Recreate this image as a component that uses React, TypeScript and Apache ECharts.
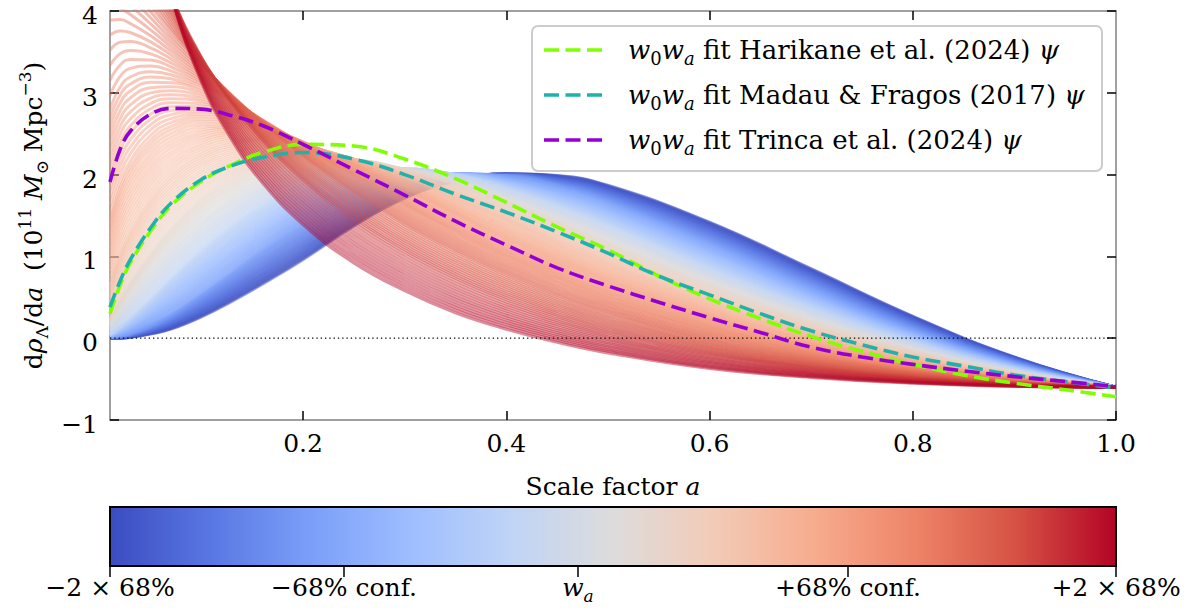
import React, { useEffect, useRef } from "react";
import * as echarts from "echarts";

// ---------------- data ----------------
// scale factor grid on which the w_a family curves are read
const SCALE_A = [0.01, 0.02, 0.03, 0.05, 0.07, 0.1, 0.13, 0.16, 0.2, 0.25, 0.3, 0.35, 0.4, 0.45, 0.5, 0.6, 0.7, 0.8, 0.9, 1.0];

// position of each key curve on the colour bar (0 = −2×68%, 1 = +2×68%)
const FAMILY_POS = [0, 0.2, 0.4, 0.55, 0.65, 0.73, 0.8, 0.86, 0.93, 1.0];
const FAMILY_0 = [0.0, 0.0, 0.01, 0.05, 0.11, 0.26, 0.45, 0.66, 0.96, 1.37, 1.71, 1.92, 2.01, 1.99, 1.87, 1.42, 0.85, 0.27, -0.23, -0.6];
const FAMILY_1 = [0.01, 0.03, 0.06, 0.16, 0.29, 0.54, 0.81, 1.08, 1.41, 1.73, 1.93, 2.01, 1.98, 1.86, 1.67, 1.16, 0.61, 0.1, -0.31, -0.6];
const FAMILY_2 = [0.05, 0.14, 0.24, 0.47, 0.72, 1.07, 1.37, 1.62, 1.87, 2.04, 2.07, 2.0, 1.84, 1.63, 1.39, 0.86, 0.37, -0.05, -0.38, -0.6];
const FAMILY_3 = [0.24, 0.47, 0.68, 1.04, 1.34, 1.7, 1.94, 2.1, 2.2, 2.18, 2.06, 1.87, 1.63, 1.38, 1.11, 0.61, 0.17, -0.17, -0.43, -0.6];
const FAMILY_4 = [0.67, 1.03, 1.3, 1.7, 1.98, 2.23, 2.36, 2.4, 2.35, 2.19, 1.97, 1.7, 1.43, 1.15, 0.89, 0.42, 0.04, -0.25, -0.46, -0.6];
const FAMILY_5 = [1.47, 1.88, 2.14, 2.46, 2.62, 2.7, 2.68, 2.59, 2.4, 2.12, 1.82, 1.51, 1.21, 0.94, 0.69, 0.26, -0.08, -0.32, -0.49, -0.6];
const FAMILY_6 = [2.82, 3.09, 3.21, 3.27, 3.23, 3.09, 2.89, 2.67, 2.36, 1.98, 1.62, 1.29, 0.99, 0.73, 0.49, 0.11, -0.18, -0.38, -0.51, -0.6];
const FAMILY_7 = [4.8, 4.58, 4.39, 4.06, 3.75, 3.34, 2.97, 2.63, 2.22, 1.78, 1.39, 1.06, 0.77, 0.52, 0.31, -0.03, -0.27, -0.43, -0.54, -0.6];
const FAMILY_8 = [8.44, 6.86, 5.99, 4.92, 4.21, 3.44, 2.87, 2.41, 1.92, 1.43, 1.04, 0.72, 0.46, 0.25, 0.07, -0.19, -0.37, -0.49, -0.56, -0.6];
const FAMILY_9 = [13.41, 9.27, 7.35, 5.34, 4.2, 3.13, 2.42, 1.9, 1.39, 0.92, 0.58, 0.31, 0.11, -0.05, -0.18, -0.37, -0.48, -0.55, -0.59, -0.6];
const FAMILY = [FAMILY_0, FAMILY_1, FAMILY_2, FAMILY_3, FAMILY_4, FAMILY_5, FAMILY_6, FAMILY_7, FAMILY_8, FAMILY_9];

// w0wa fits (dashed)
const FIT_A = [0.01, 0.02, 0.03, 0.05, 0.07, 0.1, 0.13, 0.16, 0.2, 0.25, 0.3, 0.35, 0.4, 0.45, 0.5, 0.55, 0.6, 0.65, 0.7, 0.75, 0.8, 0.85, 0.9, 0.95, 1.0];
const FIT_HARIKANE = [0.3, 0.65, 0.92, 1.31, 1.62, 1.92, 2.12, 2.27, 2.37, 2.35, 2.19, 1.95, 1.66, 1.36, 1.08, 0.76, 0.48, 0.24, 0.02, -0.16, -0.32, -0.45, -0.55, -0.63, -0.715];
const FIT_MADAU = [0.38, 0.7, 0.96, 1.35, 1.65, 1.94, 2.11, 2.21, 2.27, 2.19, 2.0, 1.76, 1.54, 1.3, 1.04, 0.76, 0.53, 0.3, 0.09, -0.08, -0.23, -0.34, -0.45, -0.53, -0.61];
const FIT_TRINCA = [1.91, 2.31, 2.53, 2.74, 2.81, 2.8, 2.72, 2.6, 2.37, 2.06, 1.75, 1.43, 1.14, 0.86, 0.64, 0.44, 0.25, 0.07, -0.11, -0.23, -0.32, -0.4, -0.47, -0.53, -0.59];
const FIT_NAMES = [
  "{i|w}{sub|0}{i|w}{subi|a} fit Harikane et al. (2024) {i|ψ}",
  "{i|w}{sub|0}{i|w}{subi|a} fit Madau & Fragos (2017) {i|ψ}",
  "{i|w}{sub|0}{i|w}{subi|a} fit Trinca et al. (2024) {i|ψ}",
];
const FIT_COLORS = ["#7fff00", "#20b2aa", "#9400d3"];

const X_TICKS = [0.2, 0.4, 0.6, 0.8, 1.0];

const CBAR_TICK_POS = [0, 0.2326, 0.4652, 0.7336, 1];
const CBAR_TICK_LABELS = ["−2 × 68%", "−68% conf.", "{i|w}{subi|a}", "+68% conf.", "+2 × 68%"];

const COOLWARM = ["#3b4cc0", "#5977e3", "#7b9ff9", "#9ebeff", "#c0d4f5", "#dddcdc", "#f2cbb7", "#f7ac8e", "#ee8468", "#d65244", "#b40426"];

// ---------------- helpers ----------------
const FONT = "DejaVu Serif";
const FS = 25;
const LH = 34;
function richFor(fs: number) {
  const small = Math.round(fs * 0.68);
  return {
    i: { fontFamily: FONT, fontStyle: "italic", fontSize: fs, lineHeight: LH, color: "#000" },
    sub: { fontFamily: FONT, fontSize: small, lineHeight: 21, verticalAlign: "bottom", color: "#000" },
    subi: { fontFamily: FONT, fontStyle: "italic", fontSize: small, lineHeight: 21, verticalAlign: "bottom", color: "#000" },
    sup: { fontFamily: FONT, fontSize: small, lineHeight: 20, verticalAlign: "top", color: "#000" },
  } as any;
}
const RICH = richFor(FS);
const RICH_LEG = richFor(26);

function hexToRgb(h: string) {
  return [parseInt(h.slice(1, 3), 16), parseInt(h.slice(3, 5), 16), parseInt(h.slice(5, 7), 16)];
}
function cmap(t: number, alpha: number) {
  const x = Math.max(0, Math.min(1, t)) * (COOLWARM.length - 1);
  const i = Math.min(COOLWARM.length - 2, Math.floor(x));
  const s = x - i;
  const a = hexToRgb(COOLWARM[i]);
  const b = hexToRgb(COOLWARM[i + 1]);
  const c = a.map((v, k) => Math.round(v + (b[k] - v) * s));
  return `rgba(${c[0]},${c[1]},${c[2]},${alpha})`;
}

const N_LINES = 180;

function familySeries() {
  const out: any[] = [];
  for (let k = 0; k < N_LINES; k++) {
    const t = k / (N_LINES - 1);
    let i = 0;
    while (i < FAMILY_POS.length - 2 && t > FAMILY_POS[i + 1]) i++;
    const s = (t - FAMILY_POS[i]) / (FAMILY_POS[i + 1] - FAMILY_POS[i]);
    const A = FAMILY[i];
    const B = FAMILY[i + 1];
    out.push({
      type: "line",
      data: SCALE_A.map((a, j) => [a, A[j] + (B[j] - A[j]) * s]),
      showSymbol: false,
      symbol: "none",
      smooth: 0.45,
      silent: true,
      z: 2,
      lineStyle: { color: cmap(t, 0.45), width: 3 },
    });
  }
  return out;
}

export default function App() {
  const ref = useRef<HTMLDivElement>(null);

  useEffect(() => {
    if (!ref.current) return;
    const chart = echarts.init(ref.current, null, { renderer: "svg" });

    const gl = 110, gt = 11, gw = 1006, gh = 409;
    const cbTop = 507, cbH = 59;

    const axisLine = { show: true, onZero: false, lineStyle: { color: "#808080", width: 1.5 } };
    const tick = { show: true, inside: true, length: 9, lineStyle: { color: "#000", width: 1.5 } };

    const series: any[] = familySeries();
    series.push({
      type: "line",
      data: [[0.01, 0], [1.0, 0]],
      showSymbol: false,
      symbol: "none",
      silent: true,
      z: 3,
      lineStyle: { color: "#000", width: 1.3, type: [1.3, 3] },
    });
    [FIT_HARIKANE, FIT_MADAU, FIT_TRINCA].forEach((vals, idx) => {
      series.push({
        type: "line",
        data: FIT_A.map((a, j) => [a, vals[j]]),
        showSymbol: false,
        symbol: "none",
        smooth: 0.4,
        silent: true,
        z: 4,
        lineStyle: { color: FIT_COLORS[idx], width: 3.6, type: [15, 6.5] },
      });
    });

    const graphic: any[] = [];
    // legend
    const lgX = 532, lgY = 26, lgW = 570, lgH = 145;
    graphic.push({
      type: "rect",
      z: 100,
      shape: { x: lgX, y: lgY, width: lgW, height: lgH, r: 6 },
      style: { fill: "rgba(255,255,255,0.8)", stroke: "#cccccc", lineWidth: 2 },
    });
    const rows = [50, 95, 140];
    rows.forEach((y, idx) => {
      graphic.push({
        type: "line",
        z: 101,
        shape: { x1: 544, y1: y, x2: 604, y2: y },
        style: { stroke: FIT_COLORS[idx], lineWidth: 3.6, lineDash: [15, 6.5] },
      });
      graphic.push({
        type: "text",
        z: 101,
        x: 628,
        y: y,
        style: {
          text: FIT_NAMES[idx],
          rich: RICH_LEG,
          fontFamily: FONT,
          fontSize: 26,
          lineHeight: LH,
          fill: "#000",
          verticalAlign: "middle",
          align: "left",
        },
      });
    });

    // colour bar
    graphic.push({
      type: "rect",
      z: 100,
      shape: { x: gl, y: cbTop, width: gw, height: cbH },
      style: {
        fill: {
          type: "linear",
          x: 0,
          y: 0,
          x2: 1,
          y2: 0,
          colorStops: COOLWARM.map((c, i) => ({ offset: i / (COOLWARM.length - 1), color: c })),
        },
        stroke: "#000",
        lineWidth: 2,
      },
    });
    CBAR_TICK_POS.forEach((p, idx) => {
      const x = gl + p * gw;
      graphic.push({
        type: "line",
        z: 101,
        shape: { x1: x, y1: cbTop + cbH, x2: x, y2: cbTop + cbH + 11 },
        style: { stroke: "#000", lineWidth: 1.5 },
      });
      graphic.push({
        type: "text",
        z: 101,
        x: x,
        y: 587,
        style: {
          text: CBAR_TICK_LABELS[idx],
          rich: RICH,
          fontFamily: FONT,
          fontSize: FS,
          lineHeight: LH,
          fill: "#000",
          align: "center",
          verticalAlign: "middle",
        },
      });
    });

    chart.setOption({
      animation: false,
      backgroundColor: "#fff",
      grid: { left: gl, top: gt, width: gw, height: gh, containLabel: false, outerBoundsMode: "none" },
      xAxis: [
        {
          type: "value",
          position: "bottom",
          min: 0.01,
          max: 1.0,
          axisLine,
          axisTick: { ...tick, customValues: X_TICKS },
          splitLine: { show: false },
          axisLabel: {
            customValues: X_TICKS,
            margin: 11,
            fontFamily: FONT,
            fontSize: FS,
            color: "#000",
            formatter: (v: number) => v.toFixed(1),
          },
          name: "Scale factor {i|a}",
          nameLocation: "middle",
          nameGap: 49,
          nameTextStyle: { fontFamily: FONT, fontSize: FS, lineHeight: LH, color: "#000", rich: RICH },
        },
        {
          type: "value",
          position: "top",
          min: 0.01,
          max: 1.0,
          axisLine,
          axisTick: { ...tick, customValues: X_TICKS.slice(0, 4) },
          axisLabel: { show: false },
          splitLine: { show: false },
        },
      ],
      yAxis: [
        {
          type: "value",
          position: "left",
          min: -1,
          max: 4,
          interval: 1,
          axisLine,
          axisTick: tick,
          splitLine: { show: false },
          axisLabel: {
            margin: 12,
            fontFamily: FONT,
            fontSize: FS,
            color: "#000",
            formatter: (v: number) => "{v|" + (v < 0 ? "−" + Math.abs(v) : String(v)) + "}",
            rich: {
              v: { fontFamily: FONT, fontSize: FS, color: "#000", padding: [9, 0, 0, 0] },
            },
          },
          name: "d{i|ρ}{sub|Λ}/d{i|a}  (10{sup|11} {i|M}{sub|⊙} Mpc{sup|−3})",
          nameLocation: "middle",
          nameRotate: 90,
          nameGap: 58,
          nameTextStyle: { fontFamily: FONT, fontSize: FS, lineHeight: LH, color: "#000", rich: RICH },
        },
        {
          type: "value",
          position: "right",
          min: -1,
          max: 4,
          interval: 1,
          axisLine,
          axisTick: tick,
          axisLabel: { show: false },
          splitLine: { show: false },
        },
      ],
      series,
      graphic,
    });

    return () => chart.dispose();
  }, []);

  return (
    <div
      ref={ref}
      style={{ position: "absolute", left: 0, top: 0, width: 1195, height: 608, background: "#fff" }}
    />
  );
}
